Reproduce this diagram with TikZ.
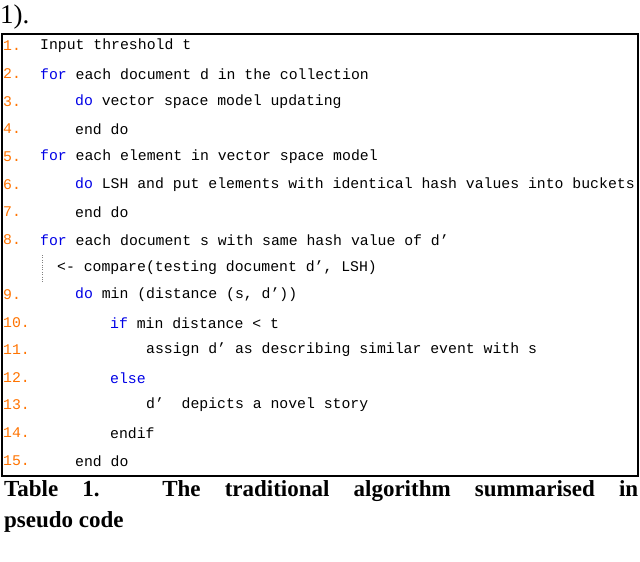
\documentclass[tikz,border=0pt]{standalone}
\usepackage{fontspec}
\setmainfont{Liberation Serif}
\setmonofont{Liberation Mono}
\begin{document}
\begin{tikzpicture}[x=1pt,y=-1pt,
  num/.style={anchor=west,inner sep=0pt,font=\ttfamily\fontsize{14.8}{16}\selectfont,text=orange!90!red},
  code/.style={anchor=west,inner sep=0pt,font=\ttfamily\fontsize{14.8}{16}\selectfont},
  captext/.style={anchor=north west,inner sep=0pt,font=\bfseries\fontsize{23}{31}\selectfont}]
\useasboundingbox (0,0) rectangle (640,562);
\definecolor{kw}{RGB}{0,0,230}
\newcommand{\kw}[1]{\textcolor{kw}{#1}}
\node[anchor=west,inner sep=0pt,font=\fontsize{27}{28}\selectfont] (top) at (0,17) {1).};
\draw[line width=1.5pt] (2,34) rectangle (638,476);
\draw[line width=2.5pt] (2,34) -- (2,476);
\draw[gray,dotted] (42,255) -- (42,282);
\foreach \n/\y in {1/46,2/74,3/102,4/129,5/157,6/185,7/212,8/240,9/295,10/323,11/350,12/378,13/405,14/433,15/461}
  \node[num] (n\n) at (3,\y) {\n.};
\node[code] (c1) at (40,46) {Input threshold t};
\node[code] (c2) at (40,74) {\kw{for} each document d in the collection};
\node[code] (c3) at (75,102) {\kw{do} vector space model updating};
\node[code] (c4) at (75,129) {end do};
\node[code] (c5) at (40,157) {\kw{for} each element in vector space model};
\node[code] (c6) at (75,185) {\kw{do} LSH and put elements with identical hash values into buckets};
\node[code] (c7) at (75,212) {end do};
\node[code] (c8) at (40,240) {\kw{for} each document s with same hash value of d’};
\node[code] (c8b) at (57,268) {<- compare(testing document d’, LSH)};
\node[code] (c9) at (75,295) {\kw{do} min (distance (s, d’))};
\node[code] (c10) at (110,323) {\kw{if} min distance < t};
\node[code] (c11) at (146,350) {assign d’ as describing similar event with s};
\node[code] (c12) at (110,378) {\kw{else}};
\node[code] (c13) at (146,405) {d’\ \ depicts a novel story};
\node[code] (c14) at (110,433) {endif};
\node[code] (c15) at (75,461) {end do};
\node[captext,align=left] (cap) at (4,480) {\makebox[634pt][s]{Table 1. The traditional algorithm summarised in}\\pseudo code};
\end{tikzpicture}
\end{document}
